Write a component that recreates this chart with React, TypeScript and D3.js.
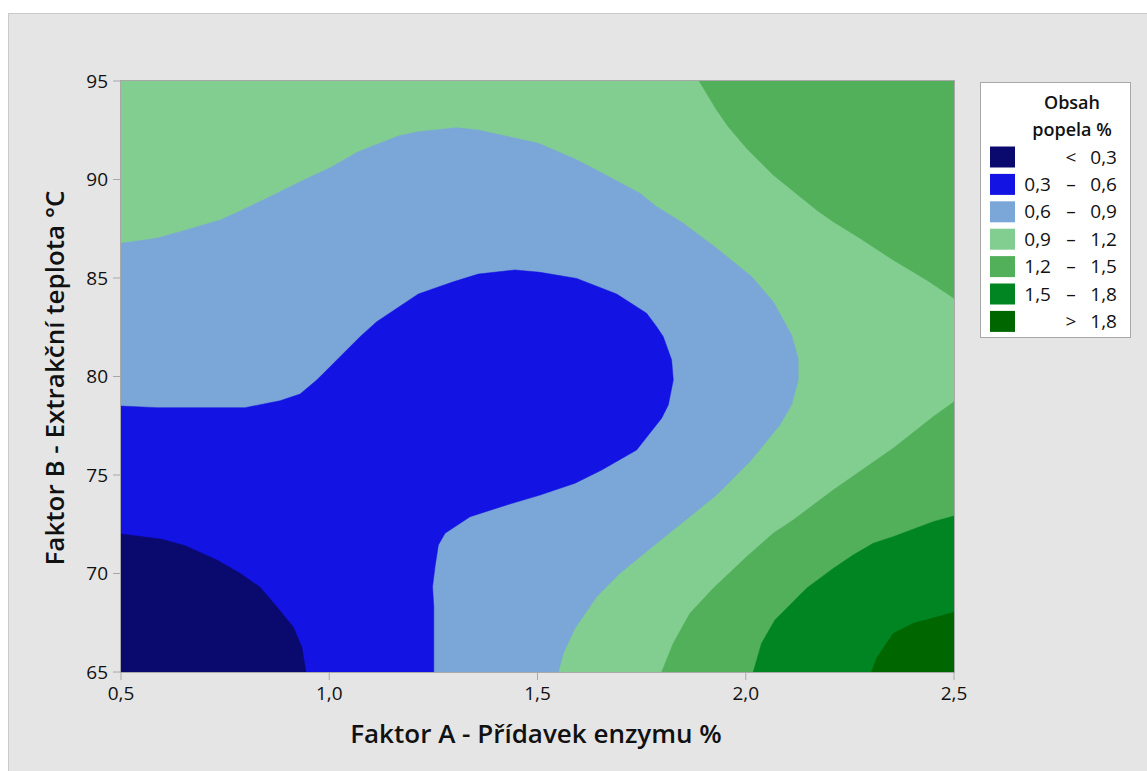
import React from "react";
import * as d3 from "d3";

// Axis ticks
const xTicks = [0.5, 1.0, 1.5, 2.0, 2.5];
const yTicks = [65, 70, 75, 80, 85, 90, 95];

// Legend
const legendLow = ["", "0,3", "0,6", "0,9", "1,2", "1,5", ""];
const legendSym = ["<", "–", "–", "–", "–", "–", ">"];
const legendHigh = ["0,3", "0,6", "0,9", "1,2", "1,5", "1,8", "1,8"];
const levelColors = ["#0A0A6E", "#1313E3", "#7BA7D8", "#82CE91", "#52B05A", "#008523", "#006700"];

// Contour boundaries: [Faktor A, Faktor B]
const c03: [number, number][] = [
  [0.5, 72.0], [0.598, 71.74], [0.654, 71.41], [0.73, 70.69], [0.786, 70.01], [0.834, 69.3],
  [0.874, 68.31], [0.914, 67.27], [0.934, 66.28], [0.944, 65],
];
const c06: [number, number][] = [
  [0.5, 78.5], [0.586, 78.42], [0.798, 78.42], [0.882, 78.77], [0.93, 79.11], [0.97, 79.82],
  [1.002, 80.5], [1.074, 82.02], [1.114, 82.78], [1.214, 84.19], [1.298, 84.81], [1.358, 85.2],
  [1.446, 85.41], [1.506, 85.29], [1.594, 84.98], [1.69, 84.19], [1.762, 83.21], [1.786, 82.53],
  [1.802, 82.02], [1.822, 80.84], [1.826, 79.82], [1.814, 78.55], [1.798, 77.88], [1.738, 76.27],
  [1.654, 75.25], [1.59, 74.58], [1.506, 73.98], [1.426, 73.48], [1.338, 72.88], [1.278, 72.04],
  [1.262, 71.45], [1.254, 70.35], [1.248, 69.33], [1.251, 68.31], [1.251, 65],
];
const c09: [number, number][] = [
  [0.5, 86.76], [0.586, 87.02], [0.642, 87.35], [0.738, 87.94], [0.786, 88.4], [0.858, 89.13],
  [0.93, 89.89], [1.002, 90.6], [1.07, 91.41], [1.166, 92.21], [1.214, 92.43], [1.306, 92.63],
  [1.358, 92.51], [1.502, 91.84], [1.586, 91.08], [1.638, 90.52], [1.746, 89.3], [1.786, 88.62],
  [1.85, 87.78], [1.93, 86.51], [2.014, 85.07], [2.066, 83.8], [2.11, 82.11], [2.126, 80.92],
  [2.126, 79.82], [2.11, 78.55], [2.082, 77.54], [2.01, 75.68], [1.93, 73.98], [1.786, 71.53],
  [1.698, 70.01], [1.642, 68.82], [1.59, 67.22], [1.562, 65.95], [1.55, 65],
];
const c12top: [number, number][] = [
  [1.888, 95], [1.93, 93.53], [1.958, 92.68], [2.002, 91.58], [2.066, 90.23], [2.17, 88.45],
  [2.21, 87.86], [2.274, 87.02], [2.354, 85.91], [2.434, 84.9], [2.5, 83.97],
];
const c12bottom: [number, number][] = [
  [2.5, 78.72], [2.45, 77.96], [2.354, 76.36], [2.21, 74.24], [2.114, 72.72], [2.066, 72.04],
  [2.002, 70.85], [1.922, 69.25], [1.866, 67.98], [1.826, 66.46], [1.798, 65],
];
const c15: [number, number][] = [
  [2.5, 72.92], [2.45, 72.63], [2.354, 71.87], [2.306, 71.53], [2.258, 70.94], [2.21, 70.26],
  [2.146, 69.25], [2.07, 67.64], [2.038, 66.46], [2.018, 65],
];
const c18: [number, number][] = [
  [2.5, 68.03], [2.402, 67.47], [2.354, 66.96], [2.338, 66.46], [2.314, 65.7], [2.302, 65],
];

const W = 1147;
const H = 771;
const FONT = "'Segoe UI', 'Open Sans', sans-serif";

export default function App() {
  const x = d3.scaleLinear().domain([0.5, 2.5]).range([121, 954]);
  const y = d3.scaleLinear().domain([65, 95]).range([672, 81]);
  const [x0, x1] = x.domain();
  const [y0, y1] = y.domain();
  const line = d3
    .line<[number, number]>()
    .x((d) => x(d[0]))
    .y((d) => y(d[1]));

  // regions painted in order (each covers the ones painted after it)
  const regions: { pts: [number, number][]; color: string }[] = [
    { pts: [...c09, [x0, y0]], color: levelColors[2] },
    { pts: [...c06, [x0, y0]], color: levelColors[1] },
    { pts: [...c03, [x0, y0]], color: levelColors[0] },
    { pts: [...c12top, [x1, y1]], color: levelColors[4] },
    { pts: [...c12bottom, [x1, y0]], color: levelColors[4] },
    { pts: [...c15, [x1, y0]], color: levelColors[5] },
    { pts: [...c18, [x1, y0]], color: levelColors[6] },
  ];

  const fmtX = (v: number) => v.toFixed(1).replace(".", ",");
  const px0 = x(x0), px1 = x(x1), py0 = y(y0), py1 = y(y1);

  const legX = 980, legY = 82, legW = 150, legH = 255;
  const swY0 = 146.5, swStep = 27.4, swH = 21;

  return (
    <svg
      width={W}
      height={H}
      style={{ position: "absolute", left: 0, top: 0, display: "block" }}
      fontFamily={FONT}
    >
      <rect x={0} y={0} width={W} height={H} fill="#ffffff" />
      <rect x={8.5} y={13.5} width={W} height={H} fill="#E5E5E5" stroke="#CACACA" />

      <defs>
        <clipPath id="plotClip">
          <rect x={px0} y={py1} width={px1 - px0} height={py0 - py1} />
        </clipPath>
      </defs>

      <g clipPath="url(#plotClip)">
        <rect x={px0} y={py1} width={px1 - px0} height={py0 - py1} fill={levelColors[3]} />
        {regions.map((r, i) => (
          <path key={i} d={(line(r.pts) || "") + "Z"} fill={r.color} stroke={r.color} strokeWidth={0.5} />
        ))}
      </g>

      {/* frame */}
      <rect x={px0 - 0.5} y={py1 - 0.5} width={px1 - px0 + 1} height={py0 - py1 + 1} fill="none" stroke="#A8A8A8" strokeWidth={1} />

      {/* y ticks */}
      {yTicks.map((t) => (
        <g key={"y" + t}>
          <line x1={px0 - 8} x2={px0 - 1} y1={y(t)} y2={y(t)} stroke="#A8A8A8" />
          <text x={108} y={y(t)} dy="0.35em" textAnchor="end" fontSize={19} fill="#111">
            {t}
          </text>
        </g>
      ))}
      {/* x ticks */}
      {xTicks.map((t) => (
        <g key={"x" + t}>
          <line x1={x(t)} x2={x(t)} y1={py0 + 1} y2={py0 + 8} stroke="#A8A8A8" />
          <text x={x(t)} y={700} textAnchor="middle" fontSize={19} fill="#111">
            {fmtX(t)}
          </text>
        </g>
      ))}

      {/* axis titles */}
      <text x={536} y={743} textAnchor="middle" fontSize={26} fontWeight={600} fill="#111">
        Faktor A - Přídavek enzymu %
      </text>
      <text
        transform={`translate(64, 378) rotate(-90)`}
        textAnchor="middle"
        fontSize={26}
        fontWeight={600}
        fill="#111"
      >
        Faktor B - Extrakční teplota °C
      </text>

      {/* legend */}
      <rect x={legX + 0.5} y={legY + 0.5} width={legW} height={legH} fill="#ffffff" stroke="#A8A8A8" />
      <text x={1072} y={109} textAnchor="middle" fontSize={18} fontWeight={600} fill="#111">
        Obsah
      </text>
      <text x={1072} y={136} textAnchor="middle" fontSize={18} fontWeight={600} fill="#111">
        popela %
      </text>
      {levelColors.map((c, i) => {
        const yy = swY0 + i * swStep;
        const mid = yy + swH / 2;
        return (
          <g key={"l" + i}>
            <rect x={990} y={yy} width={25} height={swH} fill={c} />
            <text x={1051} y={mid} dy="0.35em" textAnchor="end" fontSize={19} fill="#111">
              {legendLow[i]}
            </text>
            <text x={1071} y={mid} dy="0.35em" textAnchor="middle" fontSize={19} fill="#111">
              {legendSym[i]}
            </text>
            <text x={1117} y={mid} dy="0.35em" textAnchor="end" fontSize={19} fill="#111">
              {legendHigh[i]}
            </text>
          </g>
        );
      })}
    </svg>
  );
}
